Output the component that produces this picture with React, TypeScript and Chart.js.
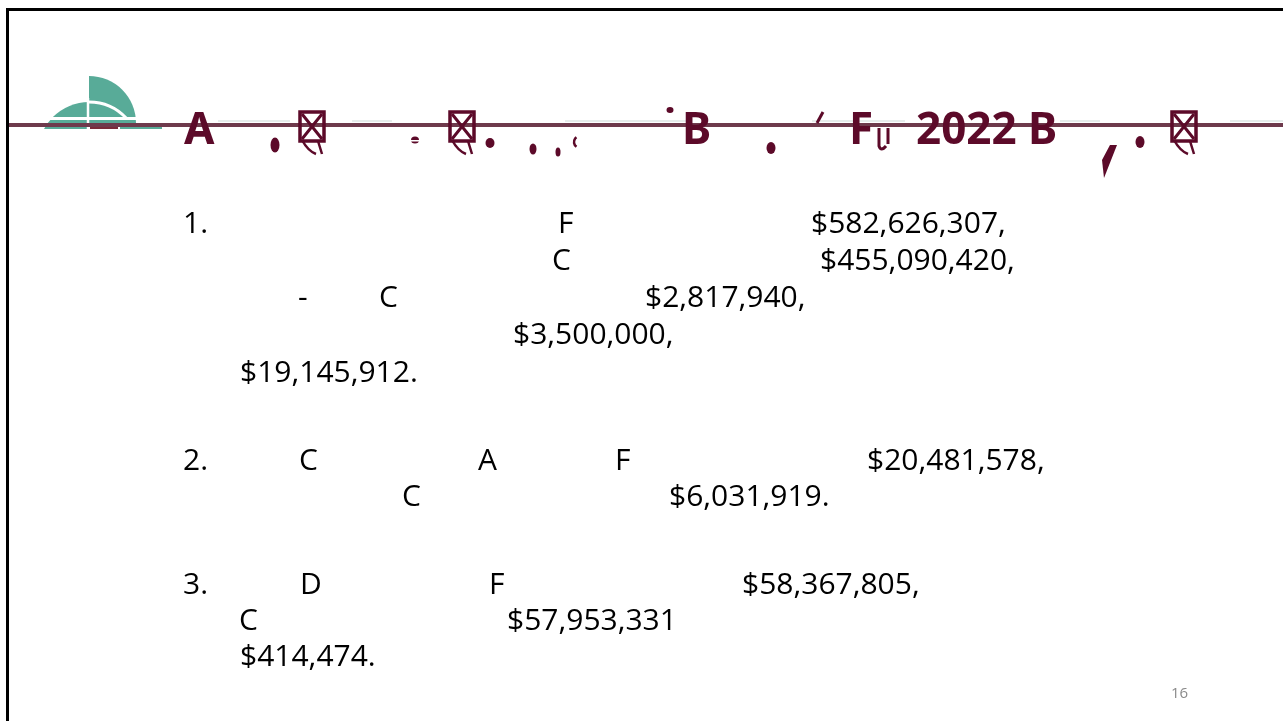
import React, { useEffect, useRef } from "react";
import { Chart, registerables } from "chart.js";

Chart.register(...registerables);

// ---- content (text values) ----
const titleWords = ["A", "B", "F", "2022 B"];
const itemNumbers = ["1.", "2.", "3."];
const initials = ["F", "C", "-", "C", "C", "A", "F", "C", "D", "F", "C"];
const amounts = [
  "$582,626,307,",
  "$455,090,420,",
  "$2,817,940,",
  "$3,500,000,",
  "$19,145,912.",
  "$20,481,578,",
  "$6,031,919.",
  "$58,367,805,",
  "$57,953,331",
  "$414,474.",
];
const pageNumber = "16";

// ---- layout: [left x, baseline y] ----
const titlePos = [
  [184, 144],
  [682, 144],
  [849, 144],
  [916, 144],
];
const numberPos = [
  [183, 234],
  [183, 471],
  [183, 595],
];
const initialPos = [
  [558, 234],
  [552, 271],
  [298, 308],
  [379, 308],
  [299, 471],
  [478, 471],
  [615, 471],
  [402, 507],
  [300, 595],
  [489, 595],
  [239, 631],
];
const amountPos = [
  [811, 234],
  [820, 271],
  [645, 308],
  [513, 345],
  [240, 383],
  [867, 471],
  [669, 507],
  [742, 595],
  [507, 631],
  [240, 667],
];

const MAROON = "#5C0A29";
const RULE = "#6E3A4C";
const TEAL = "#58AB98";

const slidePlugin = {
  id: "slideDecor",
  afterDraw(chart: any) {
    const ctx: CanvasRenderingContext2D = chart.ctx;
    ctx.save();
    // ---- logo ----
    ctx.fillStyle = TEAL;
    ctx.beginPath();
    ctx.moveTo(89, 123);
    ctx.arc(89, 123, 47, -Math.PI / 2, 0);
    ctx.closePath();
    ctx.fill();
    ctx.save();
    ctx.beginPath();
    ctx.rect(40, 90, 49, 39);
    ctx.clip();
    ctx.beginPath();
    ctx.arc(89, 153, 51, 0, Math.PI * 2);
    ctx.fill();
    ctx.restore();
    ctx.strokeStyle = "#ffffff";
    ctx.lineWidth = 3;
    ctx.beginPath();
    ctx.arc(89, 153, 51, -Math.PI / 2, -Math.PI / 4.2);
    ctx.stroke();
    ctx.lineWidth = 2.5;
    ctx.beginPath();
    ctx.moveTo(88, 98);
    ctx.lineTo(88, 130);
    ctx.stroke();
    ctx.fillStyle = "#ffffff";
    ctx.fillRect(40, 117, 150, 3);
    ctx.fillStyle = TEAL;
    ctx.fillRect(49, 127, 36, 2);
    ctx.fillRect(120, 127, 42, 2);
    ctx.fillStyle = "#7a2a3a";
    ctx.fillRect(90, 127, 28, 2);

    // faint thin segments
    ctx.fillStyle = "rgba(170,190,188,0.55)";
    const segs = [
      [218, 290],
      [352, 392],
      [565, 690],
      [812, 905],
      [1060, 1100],
      [1230, 1283],
    ];
    segs.forEach(([a, b]) => ctx.fillRect(a, 120.5, b - a, 1));

    // main rule
    ctx.fillStyle = RULE;
    ctx.fillRect(8, 123, 1275, 4);

    // ---- broken title glyph fragments ----
    ctx.fillStyle = MAROON;
    ctx.strokeStyle = MAROON;
    const ovals = [
      [275, 145, 4.5, 7.5],
      [490, 143, 4.5, 5],
      [533, 149, 3.5, 5.5],
      [558, 152, 2.5, 4.5],
      [670, 110, 3.5, 3],
      [771, 148, 4.5, 6],
      [1140, 142, 4.5, 6],
      [415, 140, 4, 3.5],
    ];
    ovals.forEach(([x, y, rx, ry]) => {
      ctx.beginPath();
      ctx.ellipse(x, y, rx, ry, 0, 0, Math.PI * 2);
      ctx.fill();
    });
    ctx.fillStyle = "#ffffff";
    ctx.fillRect(410, 140, 10, 1.5);
    ctx.fillStyle = MAROON;
    ctx.lineWidth = 2.5;
    ctx.beginPath();
    ctx.arc(580, 142, 6, Math.PI * 0.7, Math.PI * 1.3);
    ctx.stroke();
    ctx.lineWidth = 3;
    ctx.beginPath();
    ctx.moveTo(823, 112);
    ctx.lineTo(817, 123);
    ctx.stroke();
    ctx.beginPath();
    ctx.moveTo(1110, 145);
    ctx.lineTo(1117, 145);
    ctx.lineTo(1104, 178);
    ctx.lineTo(1102, 160);
    ctx.closePath();
    ctx.fill();
    ctx.lineWidth = 3;
    ctx.beginPath();
    ctx.moveTo(879, 128);
    ctx.lineTo(879, 146);
    ctx.quadraticCurveTo(881, 152, 886, 146);
    ctx.moveTo(888, 128);
    ctx.lineTo(888, 144);
    ctx.stroke();

    // notdef boxes with crosses
    const boxes = [300, 450, 1172];
    boxes.forEach((bx) => {
      const w = 24;
      const h = 29;
      const by = 112;
      ctx.lineWidth = 3.5;
      ctx.strokeRect(bx, by, w, h);
      ctx.lineWidth = 3;
      ctx.beginPath();
      ctx.moveTo(bx + 2, by + 2);
      ctx.lineTo(bx + w - 2, by + h - 2);
      ctx.moveTo(bx + w - 2, by + 2);
      ctx.lineTo(bx + 2, by + h - 2);
      ctx.stroke();
      ctx.lineWidth = 2.5;
      ctx.beginPath();
      ctx.moveTo(bx + 2, by + h - 1);
      ctx.quadraticCurveTo(bx + 8, by + h + 10, bx + 16, by + h + 13);
      ctx.moveTo(bx + 18, by + h);
      ctx.lineTo(bx + 22, by + h + 13);
      ctx.stroke();
    });
    ctx.restore();
  },
};

function Text({
  text,
  x,
  baseline,
  size,
  bold,
  color,
  family,
}: {
  text: string;
  x: number;
  baseline: number;
  size: number;
  bold?: boolean;
  color: string;
  family: string;
}) {
  const offset = Math.round(size * 0.8885);
  return (
    <div
      style={{
        position: "absolute",
        left: x,
        top: baseline - offset,
        fontFamily: family,
        fontSize: size,
        fontWeight: bold ? 700 : 400,
        lineHeight: `${size}px`,
        color,
        whiteSpace: "pre",
      }}
    >
      {text}
    </div>
  );
}

export default function App() {
  const canvasRef = useRef<HTMLCanvasElement | null>(null);

  useEffect(() => {
    if (!canvasRef.current) return;
    const chart = new Chart(canvasRef.current, {
      type: "scatter",
      data: { datasets: [] },
      options: {
        responsive: false,
        animation: false,
        devicePixelRatio: 1,
        layout: { padding: 0 },
        scales: {
          x: { display: false },
          y: { display: false },
        },
        plugins: {
          legend: { display: false },
          tooltip: { enabled: false },
        },
      },
      plugins: [slidePlugin],
    });
    return () => chart.destroy();
  }, []);

  const titleFont = '"Noto Sans", "Open Sans", sans-serif';
  const bodyFont = '"Open Sans", "Noto Sans", sans-serif';

  return (
    <div
      style={{
        position: "absolute",
        left: 0,
        top: 0,
        width: 1283,
        height: 721,
        overflow: "hidden",
        background: "#ffffff",
      }}
    >
      <canvas
        ref={canvasRef}
        width={1283}
        height={721}
        style={{ position: "absolute", left: 0, top: 0, width: 1283, height: 721 }}
      />
      <div
        style={{
          position: "absolute",
          left: 6,
          top: 8,
          width: 1400,
          height: 800,
          borderLeft: "3px solid #000",
          borderTop: "3px solid #000",
          boxSizing: "border-box",
          pointerEvents: "none",
        }}
      />
      {titleWords.map((t, i) => (
        <Text
          key={"t" + i}
          text={t}
          x={titlePos[i][0]}
          baseline={titlePos[i][1]}
          size={44}
          bold
          color={MAROON}
          family={titleFont}
        />
      ))}
      {itemNumbers.map((t, i) => (
        <Text
          key={"n" + i}
          text={t}
          x={numberPos[i][0]}
          baseline={numberPos[i][1]}
          size={30}
          color="#000"
          family={bodyFont}
        />
      ))}
      {initials.map((t, i) => (
        <Text
          key={"i" + i}
          text={t}
          x={initialPos[i][0]}
          baseline={initialPos[i][1]}
          size={30}
          color="#000"
          family={bodyFont}
        />
      ))}
      {amounts.map((t, i) => (
        <Text
          key={"a" + i}
          text={t}
          x={amountPos[i][0]}
          baseline={amountPos[i][1]}
          size={30}
          color="#000"
          family={bodyFont}
        />
      ))}
      <Text
        text={pageNumber}
        x={1171}
        baseline={698}
        size={15}
        color="#8a8a8a"
        family={bodyFont}
      />
    </div>
  );
}
